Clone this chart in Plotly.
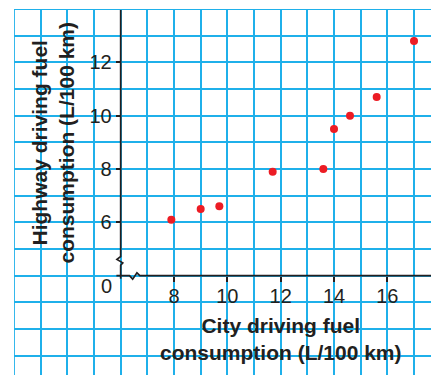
import plotly.graph_objects as go

# Fuel consumption of nine vehicles (L/100 km)
city = [7.9, 9.0, 9.7, 11.7, 13.6, 14.0, 14.6, 15.6, 17.0]
highway = [6.1, 6.5, 6.6, 7.9, 8.0, 9.5, 10.0, 10.7, 12.8]

x_ticks = [8, 10, 12, 14, 16]
y_ticks = [6, 8, 10, 12]

x_title = "City driving fuel<br>consumption (L/100 km)"
y_title = "Highway driving fuel<br>consumption (L/100 km)"

# Page and graph-paper geometry
W, H = 431, 375
ML, MT = 14, 9          # white strip left of / above the grid
UNIT = 26.667           # pixels per grid square
X_LEFT, Y_TOP = 2, 14   # values at the grid's left and top border
X_ORIG, Y_ORIG = 6, 4   # where the (broken) axes cross

x_range = [X_LEFT, X_LEFT + (W - ML) / UNIT]
y_range = [Y_TOP - (H - MT) / UNIT, Y_TOP]

GRID = "#1fb0ea"
INK = "#231f20"
FONT = "Liberation Sans, Arial, Helvetica, sans-serif"

fig = go.Figure()

fig.add_trace(go.Scatter(
    x=city, y=highway, mode="markers",
    marker=dict(color="#ec1c24", size=8, line=dict(width=0)),
    hoverinfo="x+y", showlegend=False,
))

x_pos = (X_ORIG - x_range[0]) / (x_range[1] - x_range[0])
y_pos = (Y_ORIG - y_range[0]) / (y_range[1] - y_range[0])

axis_common = dict(
    showline=False, zeroline=False, showgrid=True,
    gridcolor=GRID, gridwidth=1.6,
    ticks="outside", ticklen=5, tickwidth=1.6, tickcolor=INK,
    tickfont=dict(family=FONT, size=20, color=INK),
    anchor="free", fixedrange=True,
    minor=dict(dtick=1, tick0=0, showgrid=True, gridcolor=GRID,
               gridwidth=1.6, ticks=""),
)

fig.update_xaxes(range=x_range, tickmode="array", tickvals=x_ticks,
                 position=y_pos, ticklabelstandoff=-3, **axis_common)
fig.update_yaxes(range=y_range, tickmode="array", tickvals=y_ticks,
                 position=x_pos, **axis_common)

# Axis lines with the break marks near the origin
axis_line = dict(color=INK, width=1.7)
fig.add_shape(type="path", xref="x", yref="y", line=axis_line,
              path=(f"M {X_ORIG} {Y_TOP} L {X_ORIG} 4.72 L 5.86 4.61 "
                    f"L 6.08 4.48 L {X_ORIG} 4.39 L {X_ORIG} 3.88"))
fig.add_shape(type="path", xref="x", yref="y", line=axis_line,
              path=(f"M 5.84 {Y_ORIG} L 6.33 {Y_ORIG} L 6.45 3.87 "
                    f"L 6.61 4.105 L 6.72 {Y_ORIG} L {x_range[1]} {Y_ORIG}"))

# Border lines of the graph paper (left and top)
fig.add_shape(type="line", xref="x", yref="y", x0=X_LEFT, x1=X_LEFT,
              y0=y_range[0], y1=Y_TOP, line=dict(color=GRID, width=1.8))
fig.add_shape(type="line", xref="x", yref="y", x0=X_LEFT, x1=x_range[1],
              y0=Y_TOP, y1=Y_TOP, line=dict(color=GRID, width=1.8))

# Origin label
fig.add_annotation(x=X_ORIG, y=Y_ORIG, xref="x", yref="y", text="0",
                   showarrow=False, xanchor="center", yanchor="middle",
                   xshift=-14, yshift=-10,
                   font=dict(family=FONT, size=20, color=INK))

title_font = dict(family=FONT, size=21, color=INK, weight="bold")
fig.add_annotation(x=12.03, y=1.61, xref="x", yref="y", text=x_title,
                   showarrow=False, xanchor="center", yanchor="middle",
                   align="center", font=title_font)
fig.add_annotation(x=3.45, y=8.98, xref="x", yref="y", text=y_title,
                   showarrow=False, xanchor="center", yanchor="middle",
                   align="center", textangle=-90, font=title_font)

fig.update_layout(
    width=W, height=H,
    margin=dict(l=ML, r=0, t=MT, b=0, pad=0),
    paper_bgcolor="white", plot_bgcolor="white",
    showlegend=False,
)

fig.write_html("out.html", config={"displayModeBar": False})
